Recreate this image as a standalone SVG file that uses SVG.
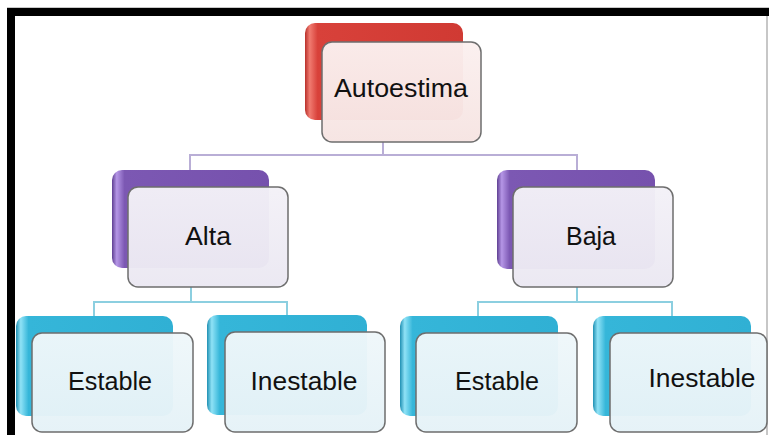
<svg xmlns="http://www.w3.org/2000/svg" width="769" height="435" viewBox="0 0 769 435">
  <style>
    .lbl { font-family: "Liberation Sans", Arial, sans-serif; font-size: 25px; fill: #111; text-anchor: middle; }
    .front { stroke: #6e6e6e; stroke-width: 1.5; }
    .conn-top { fill: none; stroke: #b9aed6; stroke-width: 2; }
    .conn-low { fill: none; stroke: #8ccfe0; stroke-width: 2; }
  </style>
  <defs>
    <linearGradient id="gRed" x1="0" y1="0" x2="1" y2="0">
      <stop offset="0" stop-color="#b8302a"/>
      <stop offset="0.03" stop-color="#f07a70"/>
      <stop offset="0.08" stop-color="#d8413a"/>
      <stop offset="1" stop-color="#d03a33"/>
    </linearGradient>
    <linearGradient id="gPurple" x1="0" y1="0" x2="1" y2="0">
      <stop offset="0" stop-color="#5f3f92"/>
      <stop offset="0.03" stop-color="#b596e6"/>
      <stop offset="0.08" stop-color="#7c58b3"/>
      <stop offset="1" stop-color="#7651ad"/>
    </linearGradient>
    <linearGradient id="gBlue" x1="0" y1="0" x2="1" y2="0">
      <stop offset="0" stop-color="#1f90b3"/>
      <stop offset="0.03" stop-color="#8fe2f6"/>
      <stop offset="0.08" stop-color="#35b6d9"/>
      <stop offset="1" stop-color="#30b0d4"/>
    </linearGradient>
    <linearGradient id="gFrontRed" x1="0" y1="0" x2="0" y2="1">
      <stop offset="0" stop-color="#fbf0ef"/>
      <stop offset="1" stop-color="#f6e4e2"/>
    </linearGradient>
    <linearGradient id="gFrontPurple" x1="0" y1="0" x2="0" y2="1">
      <stop offset="0" stop-color="#f3f1f7"/>
      <stop offset="1" stop-color="#ebe8f2"/>
    </linearGradient>
    <linearGradient id="gFrontBlue" x1="0" y1="0" x2="0" y2="1">
      <stop offset="0" stop-color="#eff7fa"/>
      <stop offset="1" stop-color="#e5f2f7"/>
    </linearGradient>
  </defs>

  <rect width="769" height="435" fill="#ffffff"/>

  <!-- frame -->
  <line x1="7" y1="7.5" x2="769" y2="7.5" stroke="#c8c8c8" stroke-width="1"/>
  <rect x="7" y="8" width="762" height="8" fill="#000"/>
  <rect x="7" y="8" width="8" height="427" fill="#000"/>
  <line x1="767" y1="16" x2="767" y2="435" stroke="#b4b4b4" stroke-width="1.5"/>

  <!-- connectors -->
  <g id="connectors">
    <path class="conn-top" d="M383 142 V155 M190 170 V155 H577 V170"/>
    <path class="conn-low" d="M191 287 V302 M94 316 V302 H287 V316"/>
    <path class="conn-low" d="M577 287 V302 M478 316 V302 H672 V316"/>
  </g>

  <g id="autoestima">
    <rect x="305" y="23" width="158" height="97" rx="10" fill="url(#gRed)"/>
    <rect class="front" x="322" y="42" width="159" height="100" rx="10" fill="url(#gFrontRed)" fill-opacity="0.97"/>
    <text class="lbl" x="401" y="97" textLength="134" lengthAdjust="spacingAndGlyphs">Autoestima</text>
  </g>

  <g id="alta">
    <rect x="112" y="170" width="157" height="98" rx="10" fill="url(#gPurple)"/>
    <rect class="front" x="128" y="187" width="160" height="100" rx="10" fill="url(#gFrontPurple)" fill-opacity="0.97"/>
    <text class="lbl" x="208" y="245" textLength="46" lengthAdjust="spacingAndGlyphs">Alta</text>
  </g>

  <g id="baja">
    <rect x="497" y="170" width="158" height="99" rx="10" fill="url(#gPurple)"/>
    <rect class="front" x="513" y="187" width="160" height="100" rx="10" fill="url(#gFrontPurple)" fill-opacity="0.97"/>
    <text class="lbl" x="591" y="245">Baja</text>
  </g>

  <g id="estable-alta">
    <rect x="16" y="316" width="157" height="100" rx="10" fill="url(#gBlue)"/>
    <rect class="front" x="32" y="333" width="161" height="99" rx="10" fill="url(#gFrontBlue)" fill-opacity="0.97"/>
    <text class="lbl" x="110" y="390" textLength="84" lengthAdjust="spacingAndGlyphs">Estable</text>
  </g>

  <g id="inestable-alta">
    <rect x="207" y="315" width="160" height="100" rx="10" fill="url(#gBlue)"/>
    <rect class="front" x="225" y="332" width="160" height="100" rx="10" fill="url(#gFrontBlue)" fill-opacity="0.97"/>
    <text class="lbl" x="304" y="390" textLength="107" lengthAdjust="spacingAndGlyphs">Inestable</text>
  </g>

  <g id="estable-baja">
    <rect x="400" y="316" width="158" height="100" rx="10" fill="url(#gBlue)"/>
    <rect class="front" x="416" y="333" width="161" height="99" rx="10" fill="url(#gFrontBlue)" fill-opacity="0.97"/>
    <text class="lbl" x="497" y="390" textLength="84" lengthAdjust="spacingAndGlyphs">Estable</text>
  </g>

  <g id="inestable-baja">
    <rect x="593" y="316" width="158" height="100" rx="10" fill="url(#gBlue)"/>
    <rect class="front" x="610" y="333" width="157" height="99" rx="10" fill="url(#gFrontBlue)" fill-opacity="0.97"/>
    <text class="lbl" x="702" y="387" textLength="107" lengthAdjust="spacingAndGlyphs">Inestable</text>
  </g>
</svg>
